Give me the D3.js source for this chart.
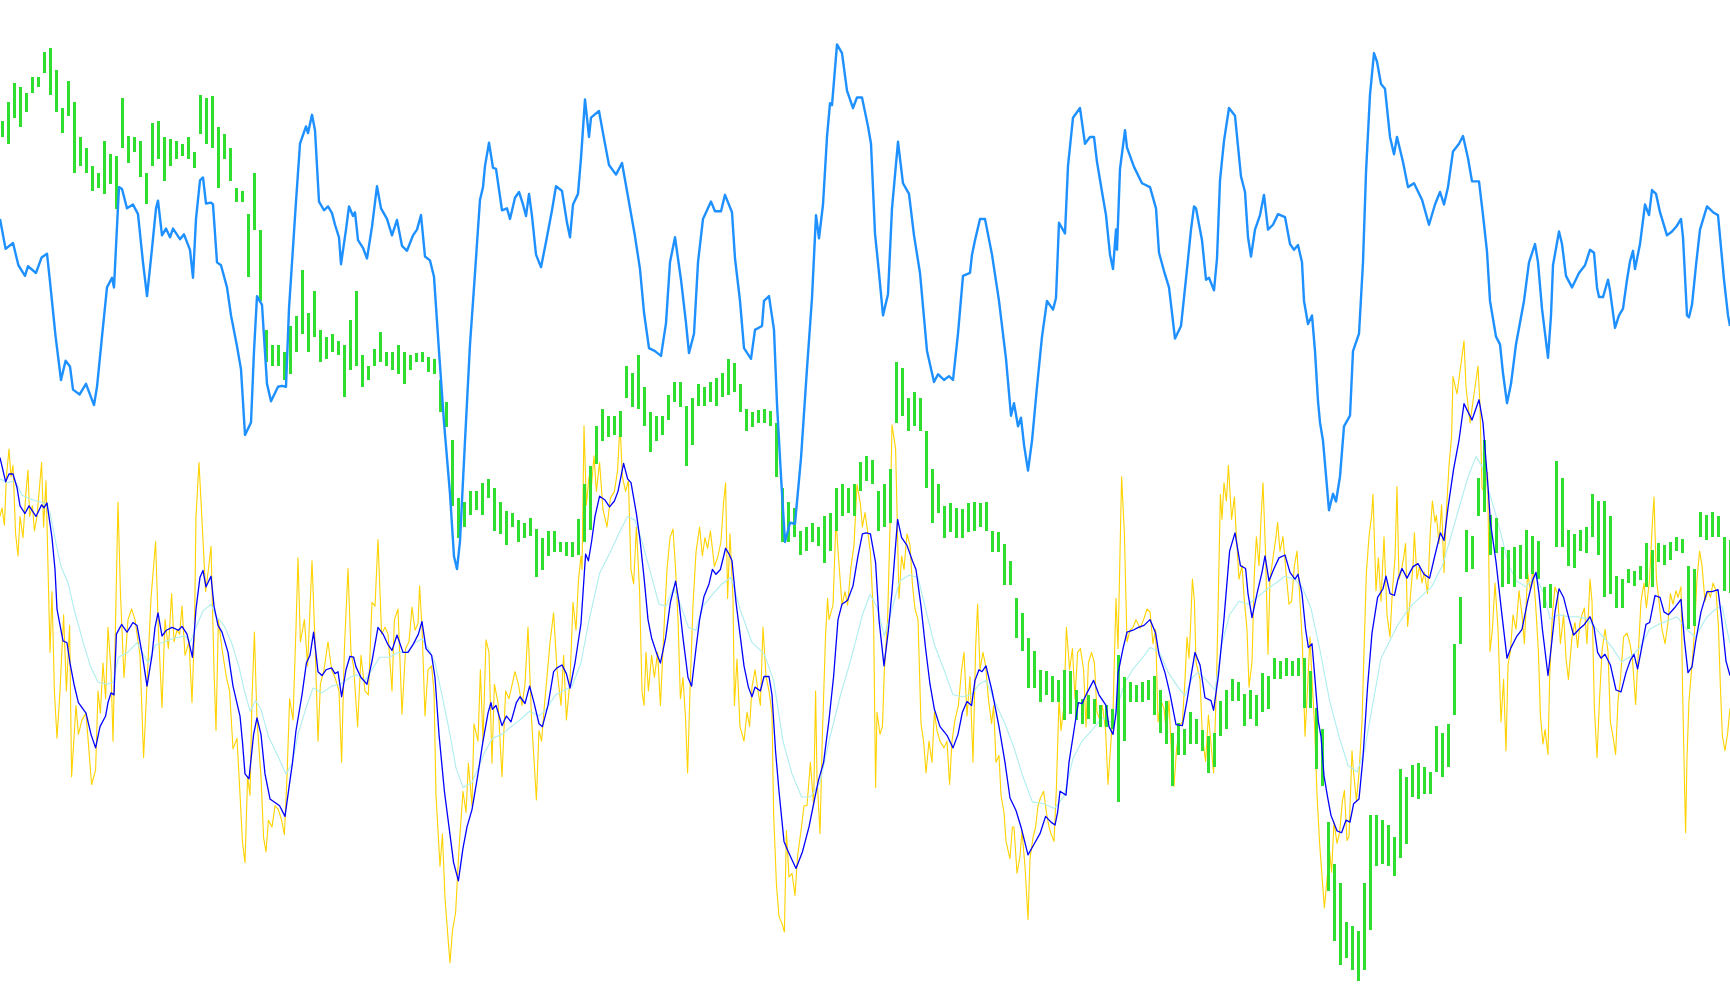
<!DOCTYPE html>
<html><head><meta charset="utf-8">
<script src="https://cdn.jsdelivr.net/npm/d3@7"></script>
<style>html,body{margin:0;padding:0;background:#fff;overflow:hidden}</style>
</head><body>
<svg id="chart" width="1730" height="1005"></svg>
<script>
// upper oscillator (own value axis): [time index, value]
const blueSeries = [[0,77.4],[2.8,74.3],[6.5,74.9],[9.2,72.6],[12.5,71.5],[14,72.5],[18,71.8],[20.8,73.4],[23.5,73.8],[25,70.9],[27.8,65.2],[30.5,60.7],[32.8,62.7],[35,62.1],[36.5,59.7],[39.8,59.2],[43,60.3],[47,58.1],[48.5,60],[51,65.2],[53.5,70.3],[56,71.3],[57,70.3],[58.5,76.6],[59.5,80.7],[61,80.5],[63.5,78.5],[66.5,78.9],[69,77.9],[71.5,72.9],[73.5,69.4],[75.5,73.3],[78,78.5],[79,79.3],[81,75.7],[83,76.4],[85,75.5],[86.5,76.4],[90,75.3],[92,75.8],[95,74.2],[96.5,71.3],[98,77.4],[100,81.4],[101.5,81.7],[103,79],[105.5,79.1],[106.5,78.9],[108.5,72.9],[110.5,72.6],[113.5,70.3],[115.5,67.4],[118.5,64.2],[120.5,61.8],[122.5,55],[125.5,56.3],[127,63.7],[128.5,69.4],[131,68.5],[133.5,60.3],[135.5,58.5],[139,60],[141,60.1],[143,60],[144.5,68.1],[148,79.2],[150,85.2],[153,87],[154,86.3],[156,88.2],[157.5,86.6],[159.5,79.2],[162,78.3],[164,78.7],[166,78],[167.5,76.8],[169.5,75.5],[170.5,72.7],[173,76.3],[174.5,78.7],[176.5,77.7],[177.5,78.1],[179,75.2],[181.5,74.4],[183.5,73.3],[186,76.6],[188.5,80.8],[190.5,78.5],[193.5,77.4],[196,75.7],[198.5,77.3],[201,74.6],[203.5,74.1],[206.5,75.7],[208.5,76.3],[210.5,77.8],[212.5,73.5],[215,73.1],[217,71.4],[219.5,63.7],[222,56.3],[225,48.9],[227,42.4],[228.5,41.1],[230,44],[232.5,54.4],[235,64.4],[237.5,71.8],[240,79.4],[241.5,80.7],[242.5,82.9],[244.5,85.3],[246.5,82.7],[248,82.6],[251,78.3],[253.5,78.5],[255,77.4],[257.5,79.6],[259.5,80.2],[261.5,78.9],[263,77.7],[264.5,80],[266,77.7],[268,73.7],[270.5,72.4],[273,75],[276,78.3],[278,80.8],[281,80.3],[283.5,77],[285,75.5],[286.5,78.9],[289,80],[290.5,83.7],[292.5,89.8],[294.5,85.9],[295.5,87.9],[299.5,88.6],[301.5,86.3],[304.5,83],[308,82],[311,83.2],[313.5,80.3],[317.5,75.6],[320,72.2],[322,67.7],[324.5,64],[327.5,63.7],[330.5,63.2],[333,66.6],[335,72.9],[337.5,75.5],[340.5,71.1],[343,66.6],[344.5,63.5],[347,65.5],[349,72.9],[351.5,77.4],[355.5,79.2],[357.5,78.2],[360.5,78.2],[362.5,79.9],[366,78.1],[367.5,73.3],[370,68.9],[372,64],[375.5,62.9],[377.5,65.9],[381,66.3],[382,68.9],[384.5,69.4],[387,65.9],[388.5,58.2],[390.5,50.7],[392.5,43.9],[395,45.9],[397.5,45.8],[400.5,52.6],[403.5,61.9],[406,69.2],[408,77.8],[409.5,75.4],[411.5,78.9],[413.5,85.9],[415,89.4],[416,89.2],[418.5,95.5],[421,94.6],[423.5,90.7],[426.5,88.9],[428.5,90],[431,90],[434,87],[435.5,85.2],[437.5,75.9],[439.5,71.8],[441.5,67.4],[444,69.6],[446,78.5],[449,85.4],[451.5,81.1],[454.5,80],[457,75.7],[460,71.8],[463.5,63.7],[467,60.5],[469,61.3],[472,60.7],[474.5,61.1],[476.5,60.7],[479,65.5],[481.5,71.5],[485,71.8],[486,73.7],[487.5,75.2],[490,77.4],[492.5,77.4],[496,73.7],[499.5,68.9],[503,62.9],[505.5,57],[507,58.3],[509,55.9],[510.5,56.8],[512,54],[514,51.3],[516,54.4],[518.5,60],[521,65.2],[523.5,68.9],[526.5,68],[528,69.2],[529.5,77],[532.5,75.9],[534,82.9],[536.5,87.9],[540,88.9],[542.5,85.2],[545,85.9],[547,85.9],[548.5,83.3],[551.5,79.6],[553,77.8],[555,73.7],[556.5,72.2],[558,76.3],[558.5,74.2],[560,82.6],[562.5,86.6],[563.5,84.8],[567,82.8],[571,81.1],[575,80.7],[578,78.5],[579.5,73.9],[582,72],[584.5,70.3],[587.5,65],[590.5,66.3],[593.5,72.2],[595.5,76.3],[597,78.7],[598,78.5],[601,75.2],[603,71.1],[604.5,71.3],[607,70],[608.5,73.3],[610,81.4],[612,85.5],[614.5,88.9],[617.5,88.1],[620.5,81.8],[622.5,80.2],[624,75.5],[625.5,73.5],[627.5,76.3],[630,77.8],[632,79.9],[634,76.3],[636.5,76.8],[639,77.9],[642.5,77.6],[645,74.8],[647,74.2],[649,74.7],[651,72.9],[652,68.9],[654,66.5],[656,67.4],[657.5,63.7],[659,58.5],[660,56.3],[661.5,54.4],[663.5,49.6],[664.5,47.2],[666.5,48.9],[668,48.1],[670,50.7],[672,55.9],[675,57],[676.5,63.7],[679.5,65.5],[681.5,72.9],[683,82.2],[685,90.3],[687,94.6],[688.5,93.7],[690.5,91.4],[692.5,90.9],[695,85.9],[697,84.1],[698.5,85.9],[701.5,83.3],[704,80.7],[707,81.1],[711,79.4],[714.5,76.8],[717.5,78.9],[720,80.2],[722,78.9],[724,80.7],[726.5,84.4],[729.5,85.2],[731.5,86],[734,83.7],[736,81.3],[739.5,81.3],[741.5,77.8],[743.5,74],[745,68.9],[748,65.2],[750,64.4],[751.5,61.4],[753.5,58.3],[755.5,60.3],[758,64.4],[762,68.9],[764.5,72.9],[767.5,74.8],[769,72.9],[771,68.1],[774,63],[775.5,67.4],[776.5,72.6],[779.5,76.1],[781,74.8],[783,71.5],[786,70.3],[789.5,71.8],[792.5,72.6],[795,74.2],[797,73.9],[798.5,70.3],[799.5,69.3],[801.5,69.3],[804,71.1],[805,70],[807.5,66.1],[809.5,67.4],[811.5,68.1],[813.5,71.1],[815,73],[816.5,74.1],[817.5,72.2],[820,74.8],[822.5,78.9],[824.5,77.8],[826,80.4],[828,80],[830,78.1],[833.5,75.7],[836,76.1],[838.5,76.7],[840.5,77.4],[841.5,75.5],[843.5,67.4],[844.5,67.2],[846,68.5],[848,72.6],[850,76.3],[853.5,78.7],[856.5,78.1],[859,77.8],[862,71.1],[864,67.4],[865,66.3]];

// lower fast line (gold), smoothed line (navy), slow line (teal): [time index, value]
const goldSeries = [[0,48],[1,48.9],[2.2,47.1],[3.2,52.1],[4.5,55],[5.5,52.1],[6.5,53.3],[7.8,46.2],[9,43.9],[10,48],[11.5,45.8],[13,50.6],[14,52.8],[14.8,48],[16.2,49.1],[17.2,46.5],[18.5,48],[20.8,53.6],[21.8,46.9],[23,51.7],[25,33.9],[26,40.2],[27.2,29.9],[28.5,25],[30,29.9],[31.8,37.8],[33.2,29.9],[34.8,36.7],[35.8,21],[38,28.4],[39.2,25.4],[41,26.9],[43,27.6],[45.8,20.2],[47.8,21.7],[49,29.9],[50.2,27.6],[51.5,32.8],[52.8,29.1],[54,36.5],[55.5,32.1],[56.5,24.7],[57.8,37.3],[59,49.5],[60.2,40.2],[62,31.3],[64,37.3],[65.8,38.4],[67.5,37.3],[70,33.6],[71.8,23],[73.5,30.6],[75.5,39.5],[77.8,45.4],[79.2,36.2],[81,28.2],[82.5,37.3],[84.2,34.3],[85.8,40],[87,35],[88.5,36.2],[89.8,35.8],[91,38.7],[92.5,33.6],[94.5,35],[96,28.7],[97.2,35.8],[98,48],[99.5,53.6],[101,47.6],[102.8,40.2],[104.2,42.5],[105.5,44.9],[107,32.1],[108,25.8],[109.2,37.3],[111,34.3],[113.2,31.3],[114.8,29.9],[116.5,23.9],[118.5,25],[120.2,18.4],[121.2,14.3],[122.5,12.1],[123.8,21],[125,19.1],[126,29.1],[127.2,36],[128.5,26.9],[130.5,21],[131.8,14.7],[133,13.2],[134.2,16.5],[136,15.8],[137.5,18],[139.2,17.6],[140.8,16.5],[142.2,15],[143.5,21],[144.8,29.1],[146.5,26.9],[148,36.5],[149,43.7],[150.2,35],[152.2,37.3],[153.8,32.5],[156,43.4],[157.5,35],[159,24.7],[160.2,30.6],[162,32.1],[164,35],[165.8,32.1],[167.5,31.3],[169.5,29.9],[170.8,22.5],[172.2,34.3],[174,42.6],[175.5,33.9],[176.8,32.4],[178.8,26.2],[180.5,33.6],[182.5,29.9],[184.2,29.5],[186,39.1],[187.5,38.7],[189,45.6],[190.8,35.8],[192.5,36.5],[194,35.8],[196,29.9],[197.2,37.3],[199,38.4],[201,27.5],[202.8,34.3],[204.5,35],[206,38.6],[207.5,36.2],[209,36.9],[209.8,40.8],[211,36.5],[212.5,27.3],[214,32.1],[215.8,32.5],[217,29.9],[218,19.1],[220,11.7],[221.2,15.1],[222.5,8.4],[224,4.3],[225,1.7],[226.2,5],[227.8,6.9],[229.5,13.6],[231.5,19.5],[233,17.3],[234.2,22.4],[236,18],[237,26.5],[239,24.7],[240.2,32.1],[241.5,24.7],[243,35.2],[244.5,33.9],[246,22.4],[247.2,30.6],[249,28.7],[251,21],[252.8,29.9],[254.5,29.1],[257.5,31.9],[259.2,30.6],[261,28.4],[262.5,30.6],[264,36.5],[265.8,26.9],[268.2,18.6],[269.5,25.8],[270.8,24.7],[272.2,28.4],[273.8,32.1],[275,34.9],[276.8,38],[278.5,32.1],[280.5,28.4],[281.8,33.6],[283.2,26.9],[285,31],[286.5,39.1],[288,36.2],[289.2,41.3],[290.5,43.9],[291,42.5],[292,57.4],[293.2,49.2],[294.5,52.1],[295.8,51.3],[297,54.3],[298.2,50.6],[299.8,53.6],[301.5,48.7],[303.5,46.9],[305.2,49.9],[307.2,50.6],[308.8,52.8],[310,57.6],[311.2,52.1],[312.8,50.6],[314.2,51.7],[315.5,42.5],[316.8,41],[318.2,46.9],[319.8,40.2],[321,29.9],[322,28.4],[323,33.9],[324.2,29.9],[325.8,33.6],[327.2,31.3],[328.8,33.9],[330.2,28.4],[332.2,37.3],[333.5,42.5],[335,45.8],[336.5,46.7],[337.8,42.5],[339,37.3],[340.2,29.1],[341.5,31.3],[342.8,26.9],[343.8,21.4],[345,29.9],[346.5,38.8],[348,44.3],[349.8,46.9],[351.2,43.9],[352.5,45.8],[353.8,44.7],[355.2,46.5],[357.2,42.8],[359,43.9],[360.5,45.4],[361.8,49.5],[362.8,51.5],[363.8,39.5],[365,46.2],[366.5,39.5],[367.2,28.4],[368.5,33.2],[370,26.2],[372,24.7],[373.5,27.7],[374.8,26.2],[376,30.3],[377.5,32.1],[379,29.9],[380.2,28.4],[381.5,36.5],[383,31.4],[384.5,29.9],[386,27.6],[386.8,17.3],[388.2,9.9],[389.5,6.5],[391,5.8],[392.2,4.9],[393.2,15.4],[394.5,10.6],[396,11],[397.5,8.7],[398.8,12.8],[400.5,15.4],[402,18],[403.5,18],[405.2,22.5],[406.8,18],[407.8,29.9],[408.5,21],[410,15.1],[411.2,25.4],[412.8,35.8],[413.8,39.5],[414.5,37.3],[416.5,38.8],[418,47.6],[419.2,43.9],[421,38.8],[422.5,40.2],[423.8,38.8],[425.5,42.8],[427,45],[428.5,51.3],[430.2,49.3],[431.2,46.9],[432.5,48.4],[434,46.2],[435.2,44.3],[436.8,37.3],[437.8,19.9],[438.5,27.7],[440,25.4],[441.2,26.2],[442.2,32.1],[443.8,37.3],[445,46.9],[446,57.5],[447.8,55],[449.5,39.5],[450.8,43.9],[452,42.5],[453.5,46.2],[455,45],[456.2,41],[457.5,38.4],[459,37.3],[460.5,26.5],[461.8,24.7],[463,21.4],[464.5,24.7],[466,22.5],[467.2,27.7],[468.5,25.8],[470,24.7],[472,24],[473.5,24.7],[474.8,20.2],[476,24.7],[477.5,26.9],[479.2,28.4],[480.8,32.1],[482,33.9],[483.5,27.3],[485,31.4],[486.5,22.5],[487.8,34.3],[488.8,38.9],[490,32.1],[491.5,33.9],[492.8,32.5],[494.2,29.1],[495.8,26.5],[496.8,28.4],[498,22.5],[499.5,23.2],[500.5,19.1],[502,17.3],[503,14.3],[505,12.5],[506.2,15.8],[507,15.8],[508.5,11],[510,12.8],[511,15.4],[512.5,11.7],[514,6.2],[515,12.5],[516.5,14.7],[517.8,15.8],[519,18],[520.2,18.8],[521.8,19.5],[523.2,17.3],[524.5,15.8],[525.5,15.1],[527,14.3],[528.2,19.9],[529.5,29.1],[530.5,25.8],[532,28.4],[533.2,36.5],[534.8,32.1],[536.2,34.3],[537.5,29.1],[538.8,33.9],[540.2,34.3],[541.8,32.1],[543,26.2],[544.2,32.8],[545.8,33.9],[547.2,32.8],[548.5,27.7],[550,26.9],[551.2,28.4],[552.8,25.8],[554,20.2],[555.5,24.7],[556.5,27.7],[558,39.5],[559,34.3],[560.8,52.1],[562.2,46.2],[563.5,35],[565,36.2],[566.5,36.5],[568,37.3],[570,36.4],[571.8,37.3],[573.5,38.4],[575,38.1],[576.5,34.8],[577.8,36.3],[579,26.7],[580.5,28.9],[582,28.1],[583.2,25.5],[584.5,28.9],[585.8,23],[587,20],[588.2,23.7],[589.8,26.3],[591.2,26.7],[592.5,31.1],[593.5,35.5],[594.5,33.3],[595.2,36.3],[596.2,41.5],[597.2,39.2],[598,32.9],[600,31.1],[601.2,25.2],[602.8,22.6],[604.2,27.4],[605.5,24.4],[606.8,21.4],[608.2,30.3],[609.2,40],[610.2,50.3],[611,47.7],[612,51.5],[613.2,49.6],[614.2,53.3],[615.8,47.7],[617.2,50],[618,46.6],[619.5,41.5],[621,42.9],[622.2,39.2],[623.5,36.3],[624.5,30.3],[626,32.9],[627.2,42.2],[628.2,45.9],[629.5,42.9],[630.5,47.7],[631.5,51.5],[632.8,44],[634,33.7],[635,41.5],[636.5,43.7],[638,45.9],[638.8,47.4],[640,44.4],[641.5,45.9],[643,42.2],[644.5,38.9],[645.8,39.2],[647.2,42.9],[648.5,44.4],[650,39.2],[651.2,34.8],[652.5,25.2],[653.8,30.3],[655,35.5],[656,31.1],[657.2,26.7],[658.5,19.2],[659.8,14.1],[661,10.7],[662.2,7.4],[663.5,10.4],[664.8,13.3],[665.8,11.1],[667,16.3],[668.5,14.1],[669.8,15.2],[671.2,18.5],[672.2,19.6],[673.5,14.4],[674.5,14.8],[676,23.7],[676.8,21.4],[678.2,18.5],[679.5,21.4],[681,26.7],[682,34],[683.2,42.2],[684.5,45.9],[685.8,48.1],[686.5,50.3],[688,40.3],[689.2,43.7],[690.5,39.2],[692,45.9],[693.5,37.8],[695,35.5],[696.2,40.3],[697.5,43.7],[698.5,51.1],[699.5,41.5],[700.5,42.2],[701.8,43.7],[702.8,45.2],[703.8,36.6],[705,39.2],[706.5,42.9],[707.2,46.3],[708.5,41.5],[709.8,42.9],[711,41.1],[712.2,42.2],[713.8,40],[715.2,46.6],[716.2,49.6],[717.5,47.4],[718.2,48.1],[719.5,45.2],[720.8,49.2],[722,42.2],[723.2,48.5],[724.5,53.3],[725.8,56.3],[726.5,62.5],[728.5,60.7],[732,66.2],[733,61.4],[735,57.7],[737,60.7],[739,63.6],[740,59.5],[741,51],[742.5,50.3],[743.8,52.6],[745,34],[746.2,36.3],[747.5,41.1],[749,36.3],[750.5,26.7],[751.8,31.1],[753,23.7],[754,32.6],[755.2,34],[756.5,37.8],[758,36.3],[759.5,40.3],[761,37.8],[762.2,34.8],[763.8,42.2],[765.2,40.3],[766.5,42.6],[767.8,38.9],[769.2,34],[770.2,27.4],[771.5,24.4],[772.5,25.9],[774,23.3],[774.8,31.1],[776.2,37.8],[777.5,40.7],[778.8,40],[780.2,34.8],[781.8,37.8],[783,33.3],[784.2,31.1],[786,35.5],[787.5,37],[788.8,34.4],[790,37],[791,37.8],[792.2,38.5],[793.5,34.8],[795,41.5],[796,39.2],[797.2,28.1],[798.5,23],[799.8,29.2],[801,34],[802.5,36.3],[804,34],[805.2,26.7],[806.5,25.2],[807.8,23.3],[809,28.9],[810.2,31.1],[811.8,35.5],[813.5,35.9],[815,34.8],[816.2,33.3],[817.8,28.5],[819,33.3],[820.5,39.2],[822,41.1],[823.2,38.5],[824.8,41.5],[826.2,47.4],[827,50],[828.2,41.5],[829.5,39.2],[831,36.3],[832.5,34.8],[834,37],[835.2,40],[836.5,38.9],[838,40.3],[839,39.6],[840.5,40.7],[841.2,31.1],[842.2,20.7],[842.8,15.2],[843.5,23],[844.5,28.9],[846,32.6],[847.2,35.9],[848.5,41.5],[849.8,44.4],[851,42.9],[852.5,39.2],[854,40.3],[855.2,39.6],[856.5,41.1],[858,40.3],[859.2,36.6],[860.2,30.3],[861.2,25.2],[862.5,23.7],[863.8,25.5],[865,28.1]];

const navySeries = [[0,54.1],[2.8,51.6],[4.5,52.4],[6.5,52.4],[8.5,51],[10,49.1],[12.5,48.3],[14.5,49.1],[18,48],[20.8,49.2],[22,48.9],[23.5,49.4],[26,45.8],[27.5,42.5],[28.5,38.4],[31.5,35.1],[33.5,34.9],[35,32.8],[37,30.6],[39.2,28.7],[43,27.6],[45.5,25.4],[47.8,24],[50,26.2],[52.8,27.3],[54,28.7],[55.5,29.7],[57,29.5],[58.2,35.8],[60.8,36.8],[63.5,36],[66.5,37],[68.5,36.7],[71.2,33.6],[73.5,30.4],[76,33.6],[77.5,36.5],[79,38],[81,35.6],[83.2,36.2],[86,36.5],[89.2,36.2],[91,36.6],[93.5,35.8],[96.2,33.4],[98,38.4],[100,41.7],[101.5,42.4],[103,40.7],[105.5,41.8],[107,38.7],[109,36.7],[111,36],[114,33.9],[116.5,30.4],[120,27.3],[121.2,24.7],[122.5,21.3],[124.5,20.8],[126.8,25.4],[128.5,27.1],[130.5,25.4],[132.5,21.3],[135,18.7],[139.8,18],[142.5,16.9],[144.5,19.9],[146.2,22.4],[148,25.8],[151,29.5],[153.2,32.8],[155,33.6],[156.8,36],[159,31.9],[161,31.5],[163,32.1],[165.8,32.3],[167.5,31.7],[169,31.9],[170.8,29.3],[173,32.1],[175,33.5],[176.8,33.4],[178,32.4],[180.5,31.3],[183.5,30.6],[186,33],[189,36.5],[191.5,35.8],[194,34.7],[196,34.1],[198.5,35.7],[201.5,33.9],[204,33.9],[206.5,34.7],[209.2,35.8],[211,37.1],[213,34.3],[215.8,33.6],[217.5,31.3],[219.5,25.4],[222.2,19.5],[225,15],[226.8,12.1],[229.2,10.2],[231.5,13.6],[233.5,15.8],[236,17.6],[239,21.3],[241.5,24.7],[244,27.6],[245.5,28.7],[246.2,28],[248,28.4],[251,26.3],[253.2,27.3],[255.5,26.7],[258.2,28.7],[260,29.3],[262.5,28.6],[264.8,30.4],[267,28.7],[269.5,26.5],[271.2,26.2],[274,28.4],[276.8,31.9],[278.5,32.3],[281,32.6],[283.2,31.7],[285,30.2],[287.5,32.8],[290.5,36.9],[292.8,44.1],[294.2,43.4],[295.8,45.4],[297.5,48],[299.8,50.1],[302.5,49.7],[304.8,49],[307.2,49.6],[309,50.6],[311.8,53.5],[313.8,51.9],[315.5,51.5],[318.2,48.3],[320,45.6],[322,41.7],[324,37.3],[325.8,35.4],[328.5,33.7],[330.2,32.8],[332.8,35.4],[335.2,39.1],[337.8,41.3],[339.5,39.1],[341.5,35.4],[344,31.3],[345.8,30.4],[348,34.3],[349.8,37.3],[352,39.7],[354.5,41],[356.2,42.5],[358,42],[360.2,42.5],[362.8,44.7],[364.5,44.1],[366,43.4],[368,39.1],[370,35.8],[372,32.5],[374.2,30.3],[376,29.3],[377.5,30.3],[380.2,29.9],[382,31.4],[384.5,31.4],[386,29.5],[387.8,23.6],[389.5,19.5],[392,14.3],[394.2,13.2],[398,11.5],[401.2,13.2],[404.5,15.8],[407,18.4],[409.2,20.6],[411.8,22.5],[414.5,26.9],[416.8,31.4],[419,37.3],[421,38.9],[423.8,39.3],[426.5,40.8],[429,43.9],[431.2,46.2],[433,46.3],[435.2,46.2],[437.8,43.2],[439.5,37.3],[442,32.5],[444.2,36.2],[446,40.2],[448.8,47.7],[450.8,45.8],[453.5,45],[456.2,43.4],[458,42.5],[460.5,38.7],[462.8,34.3],[465,30.6],[467.2,28],[470,26.2],[473.5,25.3],[476.5,24],[479,25.4],[481.2,27.7],[483.5,28.8],[485.8,28.4],[487.5,31],[489.5,32.1],[491,31.9],[493,32.5],[496,29.9],[499.5,26.2],[502.5,22.5],[505,18.8],[508,17.5],[510.5,15.8],[514,12.9],[517,14],[520,15.1],[522.8,16.9],[525.5,16.3],[527.5,16],[528.8,17.3],[530,19.5],[533,19.1],[534.5,22.5],[537.5,26.5],[539.2,28.7],[541,28.6],[543.5,29.7],[546.8,31],[549.5,29.5],[553,28.4],[554.5,26.2],[556.5,25.4],[558,27.6],[559,31.7],[561.5,34.3],[563.5,36],[566.5,36.2],[569.2,36.5],[572,36.7],[575,37.3],[577.8,35.9],[579.5,33.7],[582.5,31.8],[585,29.6],[588,26.4],[591.2,26.3],[593.5,28.9],[595.8,31.8],[597.5,33.9],[600,32.6],[602.5,29.2],[605.5,28.9],[606.8,27.9],[609.2,31.5],[612,37.4],[614.8,44.4],[617.5,46.3],[620.2,42.9],[622.8,42.6],[624,40],[626,37.5],[628.5,40],[631,42.2],[632.5,43.9],[634.5,41.3],[637,42.6],[639.5,43.7],[642.5,44],[645,42.2],[647.5,41.5],[649,42],[651,40],[652.8,36.3],[654.2,34.4],[656,34.8],[657.5,31.1],[659.2,26.7],[660.5,25.2],[662,21.1],[663.8,18.9],[665.5,17],[668.5,15.4],[670.8,15.2],[673,16.5],[675,16.3],[676.8,18.2],[679.5,18.7],[681.5,23],[683.8,30.4],[686,35.9],[688.8,39.6],[691.5,40.5],[693,41.8],[695,40],[697.2,39.8],[699,41.5],[701,42.6],[703.5,41.6],[706.5,42.8],[709,43.1],[712,42],[714.8,41.6],[717.5,44],[720.2,46.3],[722,45.5],[724,48.9],[726.8,52.9],[729.5,55.9],[732,59.7],[736,58],[739.5,60.1],[741.5,57.7],[744,51.1],[745.2,47.4],[748,43.3],[750.8,38.1],[753.5,33.3],[755.5,34.4],[758.2,35.5],[761,36.3],[763.8,39.2],[766.5,41.5],[768,42.2],[769.5,40],[771.2,36.3],[774,31.5],[775.8,34.8],[777.5,38.1],[779.5,40.5],[781.8,39.6],[784,37.8],[786.8,35.7],[789.5,36.3],[792.2,36.8],[795,37.6],[797,36.5],[798.8,33.9],[800.5,33.3],[802.5,33.7],[805.2,32.6],[808,30],[810.5,29.8],[813,31.8],[815.2,33.1],[817,33.7],[818.8,32.2],[820.5,34],[823,36.8],[824.8,37],[827.5,39.8],[830,39.6],[832,38.1],[834.2,37.8],[837.2,38.5],[840.5,39.4],[842.2,35.2],[844,31.8],[846,32.4],[847.8,35],[850.5,38.1],[853.5,40.2],[856,40.2],[859,40.4],[860.8,37.4],[863,33],[865,31.5]];

const tealSeries = [[0,51.9],[3.5,51.5],[7.5,51.7],[11,50.2],[16.5,49.7],[22,49.4],[25,48.4],[27.8,45.4],[30.5,42.8],[34.2,41],[37,38.4],[41.5,35],[45.2,32.5],[49,30.8],[53.5,30.6],[56.5,30.8],[59.2,33.4],[63.8,33.9],[68.5,34.9],[71.2,33.9],[74,32.8],[77.8,34.7],[82.5,35],[87,35.4],[92.5,35.6],[95.2,35],[98,36.5],[101.5,38.2],[105.5,38.9],[108.2,37.6],[112,36.7],[115.8,34.9],[119.5,32.4],[122.2,29.9],[125,27.8],[127.8,28.9],[130.5,28],[134.2,25.2],[138.8,23.2],[143,21.3],[146.2,22.4],[149,25.4],[152.8,28],[156.5,30.2],[161,29.7],[165.8,30.4],[170.2,30.6],[175,31.3],[178.5,31.6],[182.5,31],[186,32.1],[189.8,33.4],[194.5,33.4],[199,33.9],[203.5,33.9],[207.5,34.9],[211,35.3],[214.8,34.1],[217.5,32.8],[221.2,29.3],[225,25.4],[228,21.9],[231.5,19.9],[236,20.4],[239,21.9],[242.5,23.6],[246.2,25],[251,25.4],[255.5,26.2],[260,26.9],[264.8,27.8],[269.5,27.3],[273,28],[277.8,29.5],[282.5,30],[286,30.4],[290.5,32.8],[294.2,36.9],[299.8,42.1],[305.2,44.3],[310,46.5],[313.8,48],[317.5,47.6],[321,45.4],[324.8,42.5],[329.5,38.9],[333,38.7],[336.8,40.6],[340.5,38.7],[344.2,36.5],[348,36.2],[351.5,38.7],[356.2,39.9],[361,41],[365.5,41.7],[370,38.4],[375.8,35],[382.2,33.7],[386.8,31],[391.5,24.7],[396,21.3],[400.8,18.9],[405.2,18.9],[410,20.4],[414.5,24.7],[420,29.3],[425.5,33.2],[431.2,37.8],[435,39.9],[438.5,38.6],[442.2,35.6],[446,38.4],[449.8,41.3],[454.5,41.9],[459,41.7],[462.8,38.4],[467.2,34.7],[472,32.1],[476.5,29.5],[481.2,29.3],[485.8,29.5],[489.5,30.6],[493,31],[497.8,28.6],[502.5,26.5],[507,24],[511.5,21],[516.2,18.4],[521.8,18.2],[527.2,17.7],[532,19],[536.5,22.9],[541,24.7],[545.8,25.8],[551.2,27.1],[556,26.6],[558.8,28.4],[562.5,30.8],[567,32.3],[571.5,33.4],[575,34.4],[579.5,34],[584.2,31.8],[589,30.3],[592.5,29.4],[596.2,31.3],[599,31.8],[602.8,31.1],[607.5,30],[611,34.8],[614.8,37.8],[619.5,39.2],[624,38.9],[628.5,39.6],[633.2,40.4],[638,41.1],[642.5,41.8],[647.2,41.5],[651,40.7],[655.5,38.5],[660,34.1],[664.8,28.9],[669.5,25.2],[674,22.2],[678.5,21.5],[682.2,23.7],[686,28.1],[690.5,33.3],[694.2,34.8],[699,36.8],[704.5,38.5],[710,39.6],[715.8,40.7],[721.2,42.9],[726,46.3],[729.5,48.9],[734.2,52.2],[738,54.2],[740.8,53.3],[743.5,51.3],[748,48.1],[750.8,45.9],[754.5,42.9],[758.2,41.3],[763,40.7],[767.5,41.8],[772,40],[775,37.4],[779.5,37.8],[784,37.6],[788.5,37.6],[793.2,37.4],[797,36.6],[801.5,35.5],[806.2,34.4],[810.8,32.9],[815.5,33.5],[820,34.4],[824.8,36.3],[829.2,36.8],[834,37.2],[838.5,37.6],[843.2,36.3],[847.8,35.5],[852.8,37.4],[857.2,38.3],[861,38.7],[865,34.8]];

// price bars: one bar every 3 time units, high and low
const barStep = 3;
const barHigh = [89,91,93,92.5,91.9,93.6,93.6,96.2,96.6,94.3,90.4,93.2,91,87.3,86.2,84.3,83.6,86.9,85.6,85.4,91.4,87.5,87.3,86.9,83.6,88.8,89,87.3,87.1,86.9,86.6,87.3,85.8,91.7,91.4,91.6,88.4,87.7,86.2,82.1,81.7,79.4,83.6,77.7,67.3,65.8,65.8,65.1,67.7,68.8,73.6,69.1,71.4,67.3,66.6,66.9,66.2,65.8,68.4,71.4,64.7,63.6,65.4,67.1,65.1,65.1,65.8,65.1,64.7,64.9,65.1,64.5,64.3,62.1,59.9,55.9,
  49.9,49.5,50.6,50.6,51.5,51.9,51,49.5,48.6,48.4,47.6,47.3,47.8,46.7,45.8,46.5,46.5,45.4,45.4,45.3,
  47.7,51.4,53.2,57.4,59.1,58.4,58.4,58.9,63.6,62.9,64.7,61.4,58.8,58.4,58.4,60.6,61.9,61.9,59.5,60.3,61.7,61.4,61.9,62.4,62.9,64.3,63.9,61.7,59.1,58.8,59,59.1,58.9,57.7,51,49.5,48.9,46.5,46.9,47.3,46.9,48,48.4,51,51.4,50.9,51.4,53.6,54.3,53.9,50.6,51.4,52.9,64,63.4,60.3,60.9,60.3,56.9,52.9,51.4,49.1,49.4,48.9,48.8,49.4,49.5,49.4,49.5,46.5,46.4,45.1,43.4,
  39.5,38,35.4,34,32.1,32,31.5,31,32.1,32,30,29.1,29.5,29.1,28.4,28.4,28,33.6,31.3,30.8,30.5,30.8,31,
  31.5,30,28.9,25.5,26.6,26,27.7,27,25.9,25.2,25.5,28.9,30,31.1,30.8,29.6,30,29.5,31.8,31.5,33.3,33,33.3,33,33.3,33.3,32,28.1,26,16.3,12,10,5.9,5.5,5,10,17,17,16.5,16,14.8,21.8,21,22.2,22.4,22,21.5,26.3,25.5,26.5,34.8,39.6,46.6,46,52,55.9,48.1,47.8,44.8,44.5,44.8,45,46.6,46,45.5,40.7,41,53.7,52,46.6,46.2,46.6,46.9,50.3,49.6,49.6,48,41.8,41.5,42.6,42.3,42.9,45.2,44.5,45.2,45,45.4,45.9,45.7,42.9,42.6,48.5,48.2,48.5,48,45.9,45.6];
const barLow = [87.3,86.6,89.3,88.4,89.9,91.9,92.5,94,91.7,89.9,87.8,89.5,83.6,84.3,83.6,81.7,82.1,81.4,82.5,79.9,86.2,84.7,85.8,83.2,80.4,84.3,85.1,82.8,84.3,85.1,85.4,85.1,84.1,87.7,86.6,86.2,82.1,85.1,82.8,80.6,80.6,72.8,77.7,70.3,64,63.6,63.6,62.1,62.8,65.1,66.9,65.1,66.6,64,64.3,65.1,64.7,60.4,63.2,63.6,61.4,62.1,63.6,64,63.6,63.2,62.8,61.7,63.2,64,64,63,62.8,58.8,57.3,49.1,
  45.8,46.9,48.2,48.7,48.2,49.9,46.5,46.2,45,46.9,45.4,45.8,46,41.7,42.4,43.9,44.3,44.3,43.9,43.8,
  44,45.4,46.6,53.4,55.8,56.2,56.4,56.2,60.3,59.4,59.1,57.4,54.7,55.8,56.4,58,59.9,59.4,53.2,55.4,59.5,59.5,59.9,59.5,60.4,60.6,60.9,58.8,56.9,57.3,57.7,57.7,57.4,52.1,45.4,45.4,45.9,44,44.4,45.4,44.9,43.2,44.4,46.5,48,48.4,48,50.6,51.7,51.4,46.5,46.9,47.3,57.7,58.4,56.9,57.4,56.9,51,47.3,48.4,45.8,46.4,45.8,45.8,46.4,46.5,46.9,46.5,44.3,44.3,40.9,40.9,
  35.4,34,30.2,30.2,28.8,29.5,28.8,28.8,26.9,27.5,26.9,26.5,27,26.5,26.2,26.2,26,18.4,24.7,28.8,28.8,28.8,29,
  27.4,25.5,24.4,20,23.3,23.3,24.4,24.4,23.7,21.4,22,25.2,26,28.9,28.9,26.3,27,26.3,27.7,28,31.1,31.1,31.5,31.5,31.5,28.1,28.1,21.8,20,9.2,4,1.5,2.2,1,-0.2,1,5.1,11.8,12,11.8,10.7,12.6,14,18.9,18.7,19.2,19.2,21.5,21,22,27.4,34.8,42.2,42.5,48,48.5,44,44.2,40.7,41,40.7,41.5,41.5,42,41.5,38.5,38.5,44.8,44.8,42.9,42.7,44.4,44.2,45.9,44,39.6,40,38.5,38.5,41.1,40.8,41.4,40.7,40.7,43.3,43,43.5,44.4,44.2,36.3,36.6,45.9,45.6,45.9,45.9,40.3,40.1];

const W = 1730, H = 1005;
const svg = d3.select('#chart');
svg.append('rect').attr('width', W).attr('height', H).attr('fill', '#ffffff');

const x = d3.scaleLinear().domain([0, 865]).range([0, 1730]);
const yPrice = d3.scaleLinear().domain([0, 100]).range([979.3, 15.0]);
const yOsc = d3.scaleLinear().domain([0, 100]).range([965.4, 1.0]);

function drawLine(data, yScale, color, width) {
  const line = d3.line().x(d => x(d[0])).y(d => yScale(d[1])).curve(d3.curveLinear);
  svg.append('path').datum(data)
    .attr('d', line)
    .attr('fill', 'none')
    .attr('stroke', color)
    .attr('stroke-width', width)
    .attr('stroke-linejoin', 'round');
}

drawLine(goldSeries, yPrice, '#FFD200', 1.1);
drawLine(tealSeries, yPrice, '#AFEEEE', 1.1);

const bars = barHigh.map((h, i) => ({ t: i * barStep, hi: h, lo: barLow[i] }));
const bw = x(1.5) - x(0);
svg.append('g').attr('shape-rendering', 'crispEdges')
  .selectAll('rect').data(bars).join('rect')
  .attr('x', d => x(d.t) + 1)
  .attr('width', bw)
  .attr('y', d => yPrice(d.hi))
  .attr('height', d => Math.max(1, yPrice(d.lo) - yPrice(d.hi)))
  .attr('fill', '#30DE30');

drawLine(navySeries, yPrice, '#0000FF', 1.3);
drawLine(blueSeries, yOsc, '#1E90FF', 2.4);
</script>
</body></html>
